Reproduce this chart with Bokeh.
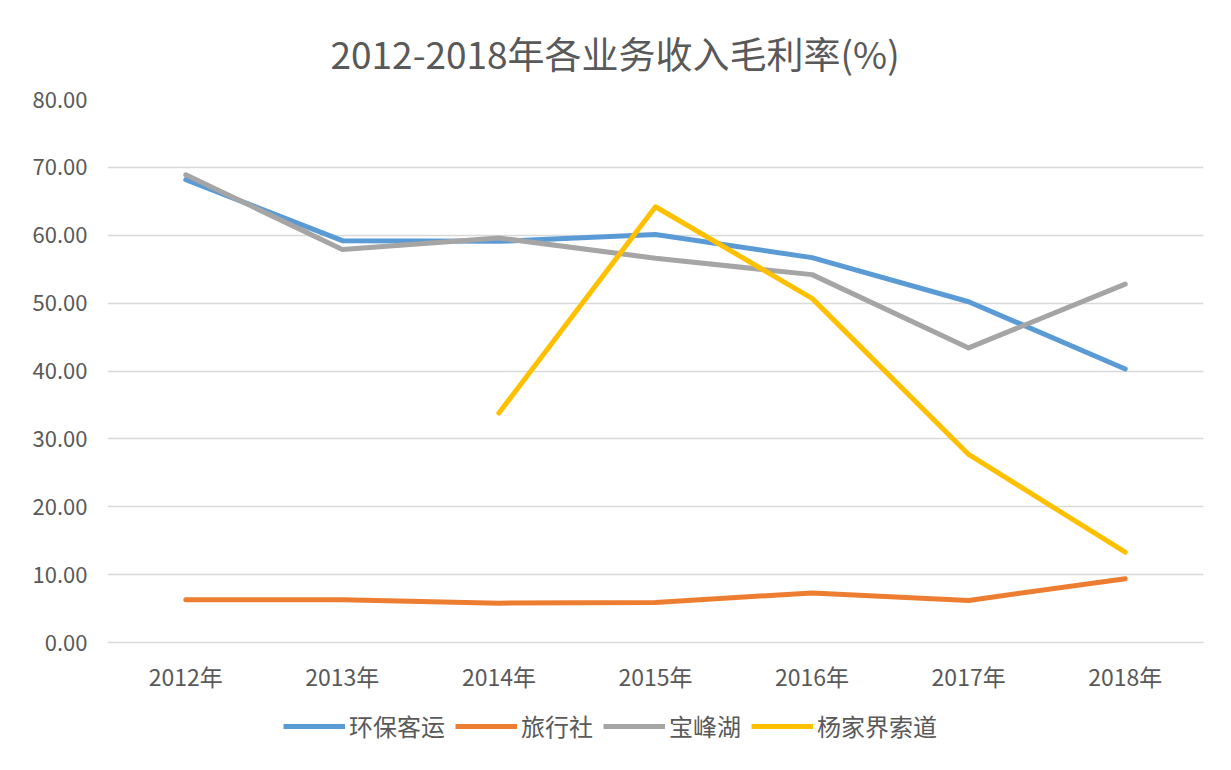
from bokeh.plotting import figure
from bokeh.layouts import column
from bokeh.models import Legend, LegendItem, Range1d, NumeralTickFormatter, Title
from bokeh.embed import file_html
from bokeh.resources import INLINE

# Gross margin by business line, 2012-2018 (%)
years = ["2012年", "2013年", "2014年", "2015年", "2016年", "2017年", "2018年"]
eco_transport = [68.2, 59.2, 59.1, 60.1, 56.7, 50.2, 40.3]      # 环保客运
travel_agency = [6.3, 6.3, 5.8, 5.9, 7.3, 6.2, 9.4]            # 旅行社
baofeng_lake = [68.9, 57.9, 59.6, 56.6, 54.2, 43.4, 52.8]       # 宝峰湖
yjj_years = ["2014年", "2015年", "2016年", "2017年", "2018年"]
yangjiajie_cableway = [33.8, 64.2, 50.7, 27.7, 13.3]            # 杨家界索道

series_names = ["环保客运", "旅行社", "宝峰湖", "杨家界索道"]
colors = ["#5B9BD5", "#ED7D31", "#A5A5A5", "#FFC000"]

TEXT = "#595959"
FONT = "Noto Sans CJK SC"
LW = 5

p = figure(
    x_range=years,
    y_range=Range1d(0, 80),
    width=1231,
    height=700,
    output_backend="svg",
    toolbar_location=None,
    min_border_left=107,
    min_border_right=28,
    min_border_top=99,
    min_border_bottom=58,
)
p.x_range.range_padding = 0

title = Title(text="2012-2018年各业务收入毛利率(%)", align="left",
              text_font=FONT, text_font_size="37px", text_color=TEXT,
              text_font_style="normal", text_line_height=0.8,
              offset=223, standoff=40)
p.add_layout(title, "above")

p.outline_line_color = None
p.background_fill_color = "white"
p.border_fill_color = "white"

p.xgrid.grid_line_color = None
p.ygrid.grid_line_color = "#D9D9D9"
p.ygrid.grid_line_width = 1.5

p.yaxis.ticker = list(range(0, 81, 10))
p.yaxis.formatter = NumeralTickFormatter(format="0.00")
p.yaxis.axis_line_color = None
p.yaxis.major_tick_line_color = None
p.yaxis.minor_tick_line_color = None
p.yaxis.major_label_text_font = FONT
p.yaxis.major_label_text_font_size = "22px"
p.yaxis.major_label_text_color = TEXT
p.yaxis.major_label_standoff = 14

p.xaxis.axis_line_color = "#D9D9D9"
p.xaxis.axis_line_width = 1.5
p.xaxis.major_tick_line_color = None
p.xaxis.minor_tick_line_color = None
p.xaxis.major_label_text_font = FONT
p.xaxis.major_label_text_font_size = "23px"
p.xaxis.major_label_text_color = TEXT
p.xaxis.major_label_standoff = 10

series = [
    (years, eco_transport),
    (years, travel_agency),
    (years, baofeng_lake),
    (yjj_years, yangjiajie_cableway),
]
for (xs, ys), c in zip(series, colors):
    p.line(xs, ys, line_color=c, line_width=LW, line_join="round", line_cap="round")

# legend strip under the chart; its key lines sit outside the strip's visible range
leg = figure(
    width=1231,
    height=70,
    x_range=Range1d(0, 1),
    y_range=Range1d(-2, -1),
    output_backend="svg",
    toolbar_location=None,
    min_border=0,
)
leg.axis.visible = False
leg.grid.visible = False
leg.outline_line_color = None
leg.background_fill_color = "white"
leg.border_fill_color = "white"

keys = [
    leg.line(list(range(len(ys))), ys, line_color=c, line_width=LW)
    for (xs, ys), c in zip(series, colors)
]

legend = Legend(
    items=[LegendItem(label=n, renderers=[r]) for n, r in zip(series_names, keys)],
    orientation="horizontal",
    location=(176, 27),
    label_text_font=FONT,
    label_text_font_size="24px",
    label_text_color=TEXT,
    glyph_width=62,
    glyph_height=24,
    label_standoff=4,
    spacing=10,
    padding=0,
    margin=0,
    border_line_color=None,
    background_fill_alpha=0,
)
leg.add_layout(legend, "center")

layout = column(p, leg, spacing=0)
open("out.html", "w").write(file_html(layout, INLINE))
